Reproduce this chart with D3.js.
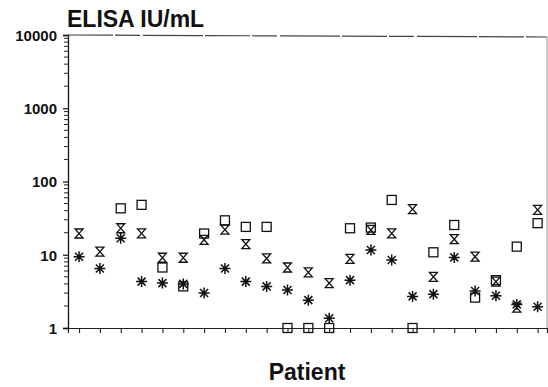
<!DOCTYPE html>
<html>
<head>
<meta charset="utf-8">
<script src="https://cdnjs.cloudflare.com/ajax/libs/d3/7.8.5/d3.min.js"></script>
<style>
  body { margin: 0; background: #fff; }
  text { font-family: "Liberation Sans", Arial, sans-serif; font-weight: bold; fill: #111; }
</style>
</head>
<body>
<div id="chart"></div>
<script>
var patients = d3.range(1, 24);

var squareVals = [null, null, 43, 48, 6.7, 3.7, 19.5, 29.5, 24, 24, 1, 1, 1, 23, 23.5, 56, 1, 10.8, 25.5, 2.6, 4.5, 12.9, 27];
var hourglassVals = [19.5, 11, 23, 19.6, 9.1, 9.1, 16, 22, 14, 8.9, 6.7, 5.75, 4.1, 8.8, 21.8, 19.6, 42, 5.0, 16.3, 9.4, 4.3, 1.9, 41];
var asteriskVals = [9.4, 6.5, 16.8, 4.3, 4.1, 4.0, 3.0, 6.5, 4.3, 3.7, 3.3, 2.4, 1.36, 4.5, 11.6, 8.5, 2.7, 2.9, 9.2, 3.2, 2.75, 2.1, 1.95];

var yTicks = [1, 10, 100, 1000, 10000];

var width = 548;
var height = 387;

var plotLeft = 68;
var plotRight = 547;
var plotTop = 35;
var plotBottom = 328;

var svg = d3
  .select("#chart")
  .append("svg")
  .attr("width", width)
  .attr("height", height);

var xScale = d3
  .scaleLinear()
  .domain([0.47, 23.45])
  .range([plotLeft, plotRight]);

var yScale = d3
  .scaleLog()
  .domain([1, 10000])
  .range([plotBottom, plotTop]);

// minor ticks for the log axis
var minorTicks = [];
yTicks.slice(0, -1).forEach(function(t) {
  for (var k = 2; k <= 9; k++) minorTicks.push(t * k);
});

var yAxis = d3
  .axisLeft(yScale)
  .tickValues(yTicks)
  .tickFormat(d3.format("d"))
  .tickSize(5)
  .tickPadding(6);

var gy = svg
  .append("g")
  .attr("class", "yAxis")
  .attr("transform", "translate(" + plotLeft + ",0)")
  .call(yAxis);

gy.select(".domain").attr("stroke", "#111").attr("stroke-width", 1.3);
gy.selectAll(".tick line").attr("stroke", "#111").attr("stroke-width", 1.2);
gy.selectAll(".tick text")
  .attr("font-size", 15)
  .attr("fill", "#111")
  .attr("dy", "0.36em")
  .style("font-family", "'Liberation Sans', Arial, sans-serif")
  .style("font-weight", "bold");

svg
  .append("g")
  .selectAll("line")
  .data(minorTicks)
  .enter()
  .append("line")
  .attr("x1", plotLeft - 4)
  .attr("x2", plotLeft)
  .attr("y1", function(d) { return yScale(d); })
  .attr("y2", function(d) { return yScale(d); })
  .attr("stroke", "#222")
  .attr("stroke-width", 1);

var xAxis = d3
  .axisBottom(xScale)
  .tickValues(patients)
  .tickFormat("")
  .tickSizeOuter(0)
  .tickSize(5);

var gx = svg
  .append("g")
  .attr("class", "xAxis")
  .attr("transform", "translate(0," + plotBottom + ")")
  .call(xAxis);

gx.select(".domain").attr("stroke", "#222").attr("stroke-width", 1.2);
gx.selectAll(".tick line").attr("stroke", "#222").attr("stroke-width", 1.1);

// frame top and right
svg.append("line")
  .attr("x1", plotLeft).attr("x2", plotRight)
  .attr("y1", plotTop).attr("y2", plotTop + 2)
  .attr("stroke", "#444")
  .attr("stroke-width", 1.2)
  .attr("stroke-dasharray", "45,2,25,3,60,2");

svg.append("line")
  .attr("x1", plotRight).attr("x2", plotRight)
  .attr("y1", plotTop + 2).attr("y2", plotBottom)
  .attr("stroke", "#999")
  .attr("stroke-width", 1);

function pts(vals) {
  return vals
    .map(function(v, i) { return { p: patients[i], v: v }; })
    .filter(function(d) { return d.v != null; });
}

var plot = svg.append("g")
  .attr("fill", "none")
  .attr("stroke", "#111")
  .attr("stroke-width", 1.3);

plot.selectAll(".sq")
  .data(pts(squareVals))
  .enter()
  .append("rect")
  .attr("class", "sq")
  .attr("x", function(d) { return xScale(d.p) - 4.5; })
  .attr("y", function(d) { return yScale(d.v) - 4.5; })
  .attr("width", 9)
  .attr("height", 9);

plot.selectAll(".hg")
  .data(pts(hourglassVals))
  .enter()
  .append("path")
  .attr("class", "hg")
  .attr("d", "M-4,-4.5L4,-4.5L-4,4.5L4,4.5Z")
  .attr("transform", function(d) {
    return "translate(" + xScale(d.p) + "," + yScale(d.v) + ")";
  });

plot.selectAll(".ast")
  .data(pts(asteriskVals))
  .enter()
  .append("path")
  .attr("class", "ast")
  .attr("stroke-width", 1.5)
  .attr("d", "M0,-5.5V5.5M-5.5,0H5.5M-4,-4L4,4M-4,4L4,-4")
  .attr("transform", function(d) {
    return "translate(" + xScale(d.p) + "," + yScale(d.v) + ")";
  });

svg.append("text")
  .attr("x", 67)
  .attr("y", 27)
  .attr("font-size", 23)
  .text("ELISA IU/mL");

svg.append("text")
  .attr("x", 307)
  .attr("y", 380)
  .attr("text-anchor", "middle")
  .attr("font-size", 23)
  .text("Patient");
</script>
</body>
</html>
